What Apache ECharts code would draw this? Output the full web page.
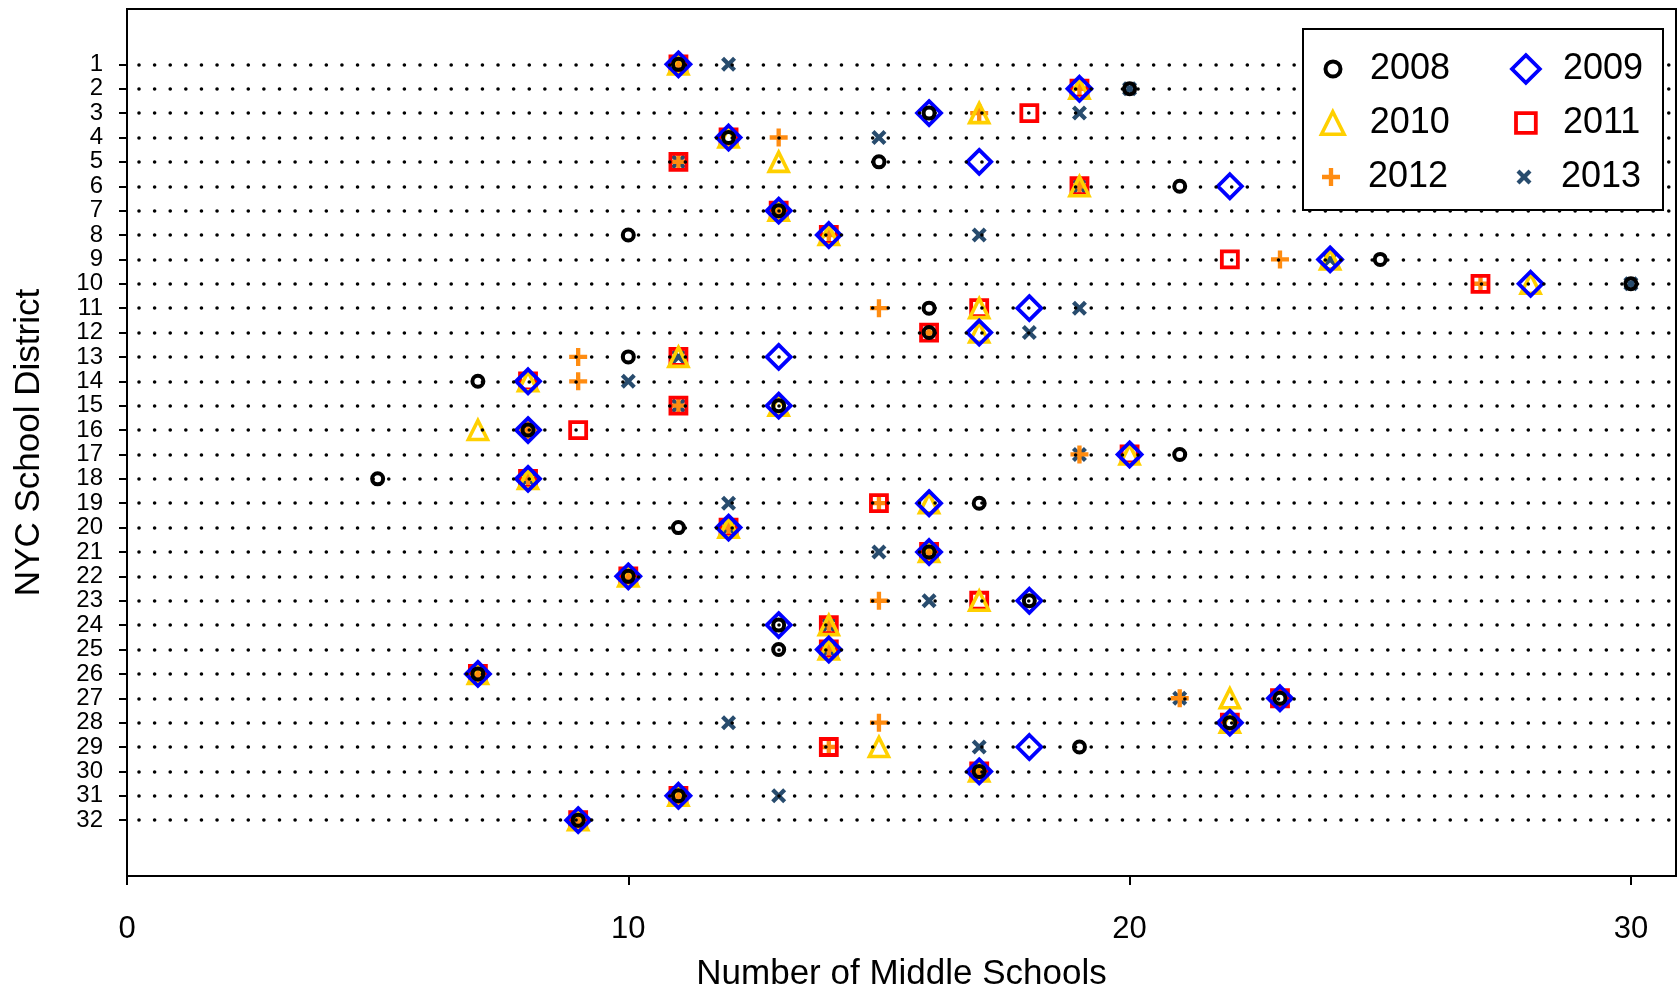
<!DOCTYPE html>
<html>
<head>
<meta charset="utf-8">
<script src="https://cdn.jsdelivr.net/npm/echarts@6/dist/echarts.min.js"></script>
<style>
  html, body { margin: 0; padding: 0; background: #fff; }
  #chart { width: 1679px; height: 994px; }
</style>
</head>
<body>
<div id="chart"></div>
<script>
// Number of middle schools per NYC school district, 2008-2013
const districts = [1,2,3,4,5,6,7,8,9,10,11,12,13,14,15,16,17,18,19,20,21,22,23,24,25,26,27,28,29,30,31,32];
const xTicks = [0, 10, 20, 30];
const years = ['2008', '2009', '2010', '2011', '2012', '2013'];

const schools2008 = [11,20,16,12,15,21,13,10,25,30,16,16,10,7,13,8,21,5,17,11,16,10,18,13,13,7,23,22,19,17,11,9];
const schools2009 = [11,19,16,12,17,22,13,14,24,28,18,17,13,8,13,8,20,8,16,12,16,10,18,13,14,7,23,22,18,17,11,9];
const schools2010 = [11,19,17,12,13,19,13,14,24,28,17,17,11,8,13,7,20,8,16,12,16,10,17,14,14,7,22,22,15,17,11,9];
const schools2011 = [11,19,18,12,11,19,13,14,22,27,17,16,11,8,11,9,20,8,15,12,16,10,17,14,14,7,23,22,14,17,11,9];
const schools2012 = [11,19,17,13,11,19,13,14,23,27,15,16,9,9,11,8,19,8,15,12,16,10,15,14,14,7,21,15,14,17,11,9];
const schools2013 = [12,20,19,15,11,19,13,17,24,30,19,18,11,10,11,8,19,8,12,12,15,10,16,14,14,7,21,12,17,17,13,9];

const valuesByYear = {
  '2008': schools2008, '2009': schools2009, '2010': schools2010,
  '2011': schools2011, '2012': schools2012, '2013': schools2013
};

const PLUS = 'path://M3.8,0H6.2V3.8H10V6.2H6.2V10H3.8V6.2H0V3.8H3.8Z';
const CROSS = 'path://M0,2L2,0L5,3L8,0L10,2L7,5L10,8L8,10L5,7L2,10L0,8L3,5Z';

// marker look for each year: hollow outlines for the first four, filled glyphs for the last two
const styles = {
  '2008': { symbol: 'circle',   size: 11, color: '#000000', hollow: true,  border: 4 },
  '2009': { symbol: 'diamond',  size: 24, color: '#0000FF', hollow: true,  border: 3.8 },
  '2010': { symbol: 'triangle', size: 19, color: '#FFD000', hollow: true,  border: 3.6 },
  '2011': { symbol: 'rect',     size: 16, color: '#FF0000', hollow: true,  border: 3.8 },
  '2012': { symbol: PLUS,       size: 18, color: '#FF8C11', hollow: false, border: 0 },
  '2013': { symbol: CROSS,      size: 15, color: '#284C6E', hollow: false, border: 0 }
};

function itemStyleFor(y) {
  const s = styles[y];
  return s.hollow
    ? { color: 'rgba(0,0,0,0)', borderColor: s.color, borderWidth: s.border, opacity: 1 }
    : { color: s.color, borderWidth: 0, opacity: 1 };
}

// later years are drawn first so 2008 ends up on top
const drawOrder = years.slice().reverse();
const yearSeries = drawOrder.map(y => ({
  name: y,
  type: 'scatter',
  symbol: styles[y].symbol,
  symbolSize: styles[y].size,
  itemStyle: itemStyleFor(y),
  z: 3,
  silent: true,
  data: valuesByYear[y].map((v, i) => [v, districts[i]])
}));

// dotted guide line for every district
const guideSeries = {
  name: 'rows',
  type: 'scatter',
  data: [],
  z: 1,
  silent: true,
  markLine: {
    silent: true,
    symbol: ['none', 'none'],
    label: { show: false },
    animation: false,
    lineStyle: { color: '#000', width: 3.6, type: [0.01, 15.6], cap: 'round', dashOffset: -12 },
    emphasis: { disabled: true },
    data: districts.map(d => ({ yAxis: d }))
  }
};

// legend: two columns, three rows
const legendCols = [1331, 1524];
const textStart = [1368, 1561];
const legendRows = [69, 123, 177];
const FONT = '"Liberation Sans", Arial, Helvetica, sans-serif';
const legends = years.map((y, i) => {
  const col = i % 2, row = Math.floor(i / 2);
  const s = styles[y];
  const box = s.hollow ? s.size + s.border : s.size;
  const left = legendCols[col] - box / 2;
  return {
    show: true,
    orient: 'vertical',
    left: left,
    top: legendRows[row] - 20,
    padding: 0,
    itemWidth: box,
    itemHeight: box,
    selectedMode: false,
    z: 20,
    data: [{ name: y, icon: s.symbol, itemStyle: itemStyleFor(y) }],
    textStyle: {
      fontFamily: FONT, fontSize: 36, color: '#000', lineHeight: 40,
      padding: [0, 0, 0, textStart[col] - (left + box + 5)]
    }
  };
});

const chart = echarts.init(document.getElementById('chart'), null, { renderer: 'canvas' });
chart.setOption({
  animation: false,
  backgroundColor: '#fff',
  grid: {
    left: 127, top: 9, right: 3, bottom: 118,
    outerBoundsMode: 'none',
    show: true, borderColor: '#000', borderWidth: 2, backgroundColor: 'transparent'
  },
  xAxis: {
    type: 'value',
    min: 0, max: 30.9,
    name: 'Number of Middle Schools',
    nameLocation: 'middle',
    nameGap: 81,
    nameTextStyle: { fontFamily: FONT, fontSize: 35, color: '#000' },
    axisLine: { show: true, onZero: false, lineStyle: { color: '#000', width: 2 } },
    axisTick: { show: true, customValues: xTicks, length: 9, lineStyle: { color: '#000', width: 2 } },
    axisLabel: { customValues: xTicks, fontFamily: FONT, fontSize: 31, color: '#000', margin: 38 },
    splitLine: { show: false }
  },
  yAxis: {
    type: 'value',
    inverse: true,
    min: -1.27, max: 34.29,
    name: 'NYC School District',
    nameLocation: 'middle',
    nameGap: 80,
    nameTextStyle: { fontFamily: FONT, fontSize: 35, color: '#000' },
    axisLine: { show: true, onZero: false, lineStyle: { color: '#000', width: 2 } },
    axisTick: { show: true, customValues: districts, length: 8, lineStyle: { color: '#000', width: 2 } },
    axisLabel: {
      customValues: districts, interval: 0, hideOverlap: false,
      showMinLabel: true, showMaxLabel: true,
      fontFamily: FONT, fontSize: 24, lineHeight: 22, color: '#000', margin: 24
    },
    splitLine: { show: false }
  },
  legend: legends,
  graphic: [{
    type: 'rect',
    z: 10,
    shape: { x: 1303, y: 29, width: 360, height: 181 },
    style: { fill: '#fff', stroke: '#000', lineWidth: 2 },
    silent: true
  }],
  series: [guideSeries].concat(yearSeries)
});
</script>
</body>
</html>
